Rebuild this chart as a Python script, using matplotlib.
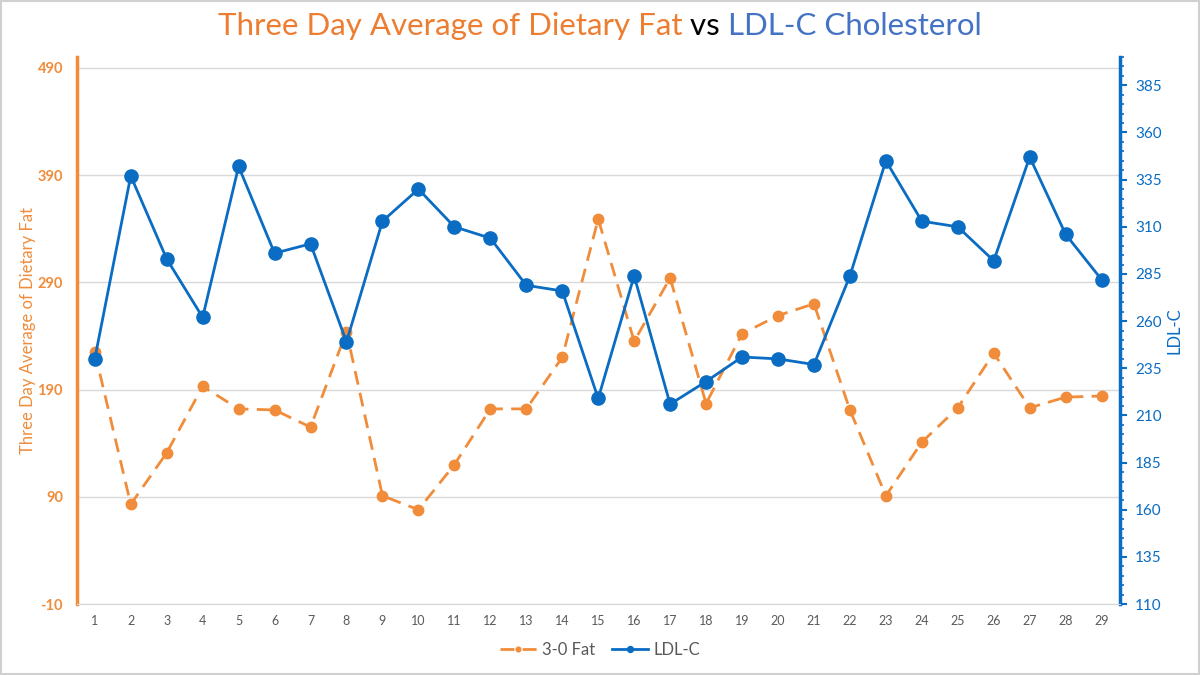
import matplotlib
matplotlib.use('Agg')
import matplotlib.pyplot as plt
from matplotlib.ticker import MultipleLocator, FixedLocator
from matplotlib.patches import Rectangle

plt.rcParams['font.family'] = ['Lato', 'DejaVu Sans']
plt.rcParams['axes.unicode_minus'] = False

# datos
dias = list(range(1, 30))
grasa_3d = [225, 83, 131, 193, 172, 171, 155, 244, 91, 78, 120, 172, 172, 220, 349,
            235, 294, 177, 242, 259, 270, 171, 91, 141, 173, 224, 173, 183, 184]
ldl_c = [240, 337, 293, 262, 342, 296, 301, 249, 313, 330, 310, 304, 279, 276, 219,
         284, 216, 228, 241, 240, 237, 284, 345, 313, 310, 292, 347, 306, 282]
ticks_izq = [-10, 90, 190, 290, 390, 490]
ticks_der = [110, 135, 160, 185, 210, 235, 260, 285, 310, 335, 360, 385]

naranja = '#F08C3A'
azul = '#0A6CC2'
gris = '#595959'

fig = plt.figure(figsize=(12, 6.75), dpi=100)
ax = fig.add_axes([0.064, 0.105, 0.869, 0.8105])
ax2 = ax.twinx()

ax.plot(dias, grasa_3d, color=naranja, marker='o', markersize=7.5, linewidth=2,
        linestyle=(0, (5, 3)), label='3-0 Fat', zorder=3)
ax2.plot(dias, ldl_c, color=azul, marker='o', markersize=9.5, linewidth=2,
         label='LDL-C', zorder=3)

ax.set_xlim(0.5, 29.5)
ax.set_ylim(-10, 500)
ax2.set_ylim(110, 400)

ax.set_xticks(dias)
ax.tick_params(axis='x', length=0, labelsize=9, labelcolor=gris, pad=8)
ax.yaxis.set_major_locator(FixedLocator(ticks_izq))
ax.tick_params(axis='y', length=0, labelsize=10.5, labelcolor=naranja, pad=10)
for lab in ax.get_yticklabels():
    lab.set_fontweight('bold')
ax.grid(axis='y', color='#D9D9D9', linewidth=1)
ax.set_axisbelow(True)

ax2.yaxis.set_major_locator(FixedLocator(ticks_der))
ax2.yaxis.set_minor_locator(MultipleLocator(5))
ax2.tick_params(axis='y', which='major', length=5, width=1.5, color=azul,
                labelsize=11, labelcolor=azul, pad=6)
ax2.tick_params(axis='y', which='minor', length=3, width=1.2, color=azul)

for a in (ax, ax2):
    a.spines['top'].set_visible(False)
    a.spines['bottom'].set_color('#D9D9D9')
    a.spines['left'].set_visible(False)
    a.spines['right'].set_visible(False)
ax.spines['left'].set_visible(True)
ax.spines['left'].set_color(naranja)
ax.spines['left'].set_linewidth(2.5)
ax2.spines['right'].set_visible(True)
ax2.spines['right'].set_color(azul)
ax2.spines['right'].set_linewidth(2.5)

ax.set_ylabel('Three Day Average of Dietary Fat', color=naranja, fontsize=12)
ax.yaxis.set_label_coords(-0.039, 0.5)
ax2.set_ylabel('LDL-C', color=azul, fontsize=12)
ax2.yaxis.set_label_coords(1.045, 0.5)

# leyenda combinada abajo
h1, l1 = ax.get_legend_handles_labels()
h2, l2 = ax2.get_legend_handles_labels()
fig.legend(h1 + h2, l1 + l2, loc='center', bbox_to_anchor=(0.5, 0.037), ncol=2,
           frameon=False, fontsize=12, labelcolor=gris, markerscale=0.45,
           handlelength=2.2, handletextpad=0.3, columnspacing=1.0)

# titulo en tres colores
partes = [('Three Day Average of Dietary Fat ', '#ED7D31'), ('vs ', 'black'),
          ('LDL-C Cholesterol', '#4472C4')]
fig.canvas.draw()
r = fig.canvas.get_renderer()
textos = [fig.text(0, 0.962, t, color=c, fontsize=22.5, va='center', ha='left') for t, c in partes]
anchos = [tx.get_window_extent(r).width for tx in textos]
x0 = (1200 - sum(anchos)) / 2
for tx, w in zip(textos, anchos):
    tx.set_x(x0 / 1200)
    x0 += w

fig.patches.append(Rectangle((0.001, 0.001), 0.998, 0.998, transform=fig.transFigure,
                             fill=False, edgecolor='#D0D0D0', linewidth=1.5))

fig.savefig('out.png', dpi=100)
